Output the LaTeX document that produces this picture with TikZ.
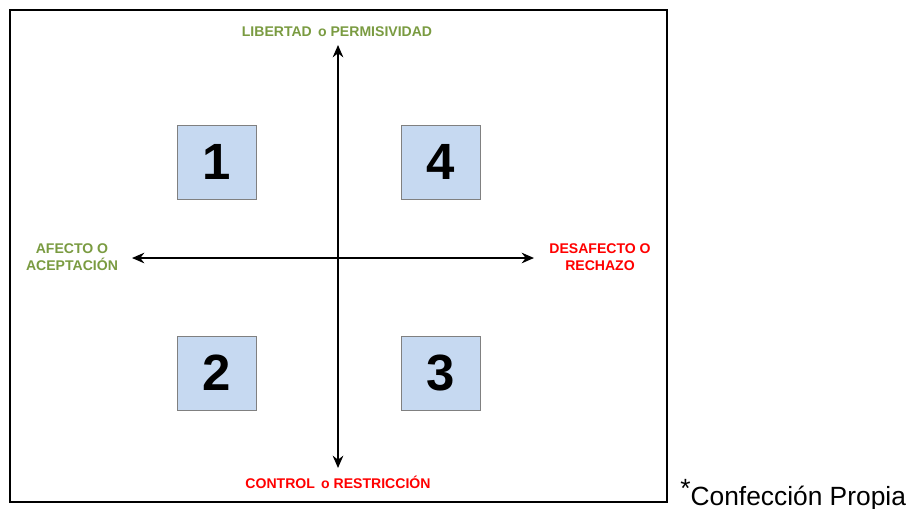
\documentclass[tikz,border=0pt]{standalone}
\usepackage{fontspec}
\setmainfont{Liberation Sans}
\usepackage{tikz}
\usetikzlibrary{arrows.meta}
\definecolor{olive}{RGB}{122,155,65}
\definecolor{boxblue}{RGB}{198,217,241}

\begin{document}
\begin{tikzpicture}[x=0.02cm, y=-0.02cm, axis/.style = {line width=1.1pt, {Stealth[length=7pt,width=6pt]}-{Stealth[length=7pt,width=6pt]}}, quad/.style = {shape=rectangle, draw=gray, fill=boxblue, minimum width=1.58cm, minimum height=1.48cm, font=\bfseries\fontsize{29}{30}\selectfont}, good/.style = {align=center, text=olive, font=\bfseries\fontsize{8}{10}\selectfont}, bad/.style = {align=center, text=red, font=\bfseries\fontsize{8}{10}\selectfont}]
	\useasboundingbox (0,0) rectangle (912,508);
	\draw[line width=0.8pt] (10,10) rectangle (667,502);
	\node[good] (top) at (337,32) {LIBERTAD \,o PERMISIVIDAD};
	\node[bad] (bottom) at (338,482) {CONTROL \,o RESTRICCIÓN};
	\node[good] (left) at (72,257) {AFECTO O\\ACEPTACIÓN};
	\node[bad] (right) at (600,257) {DESAFECTO O\\RECHAZO};
	\coordinate (n) at (338,45);
	\coordinate (s) at (338,468);
	\coordinate (w) at (132,258);
	\coordinate (e) at (534,258);
	\draw[axis] (s) -- (n);
	\draw[axis] (w) -- (e);
	\node[quad] (q1) at (217,162) {1};
	\node[quad] (q4) at (441,162) {4};
	\node[quad] (q2) at (217,373) {2};
	\node[quad] (q3) at (441,373) {3};
	\node[anchor=base west, font=\fontsize{15}{17}\selectfont, inner sep=0pt] (note) at (680,505) {\raisebox{0.3em}{*}Confección Propia};
\end{tikzpicture}
\end{document}
